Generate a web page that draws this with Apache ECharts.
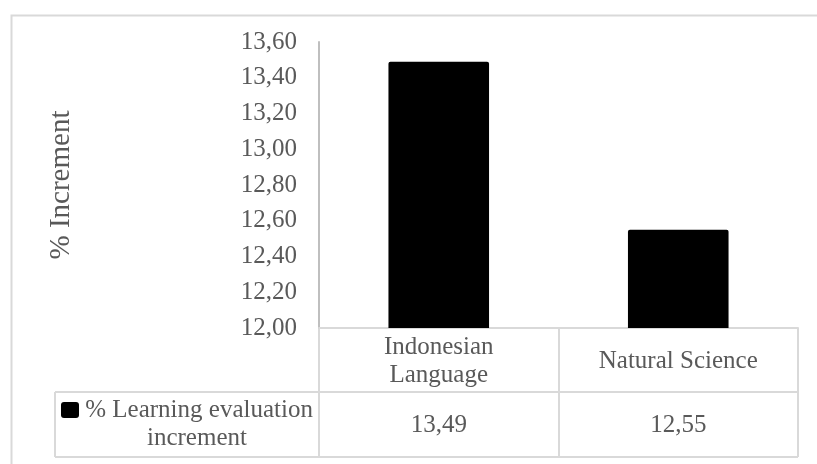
<!DOCTYPE html>
<html>
<head>
<meta charset="utf-8">
<script src="https://cdn.jsdelivr.net/npm/echarts@6/dist/echarts.min.js"></script>
<style>
    html, body { margin: 0; padding: 0; background: #fff; }
    #container { width: 817px; height: 464px; }
</style>
</head>
<body>
<div id="container"></div>
<script>
// chart data
let categories = ['Indonesian Language', 'Natural Science']
let values = [13.49, 12.55]
let seriesName = '% Learning evaluation increment'
let yTicks = { min: 12, max: 13.6, step: 0.2 }

const fmt = v => v.toFixed(2).replace('.', ',')
const textColor = '#595959'
const borderColor = '#d9d9d9'
const font = 'Liberation Serif'

let mychart = echarts.init(document.getElementById('container'))

let options = {
    animation: false,
    textStyle: { fontFamily: font },
    grid: {
        left: 319,
        right: 19,
        top: 42,
        bottom: 136
    },
    legend: {
        data: [seriesName],
        left: 51,
        top: 391,
        icon: 'none',
        itemWidth: 0,
        itemHeight: 16,
        // square marker is drawn inline so it sits on the first line
        formatter: name => '{sq|}{t| ' + name.replace(' increment', '}\n{l2|increment}'),
        textStyle: {
            color: textColor,
            fontSize: 25,
            fontFamily: font,
            lineHeight: 28,
            rich: {
                sq: { backgroundColor: '#000', width: 18, height: 16, borderRadius: 3 },
                t: { fontSize: 25, fontFamily: font, color: textColor, lineHeight: 28 },
                l2: { fontSize: 25, fontFamily: font, color: textColor, lineHeight: 28, padding: [0, 0, 0, 86] }
            }
        }
    },
    graphic: {
        elements: [
            // outer frame
            { type: 'rect', left: 9, top: 13, shape: { width: 900, height: 500 }, style: { fill: 'none', stroke: borderColor, lineWidth: 2 }, silent: true },
            // data table lines
            { type: 'line', shape: { x1: 55, y1: 392, x2: 798, y2: 392 }, style: { stroke: borderColor, lineWidth: 2 } },
            { type: 'line', shape: { x1: 55, y1: 457, x2: 798, y2: 457 }, style: { stroke: borderColor, lineWidth: 2 } },
            { type: 'line', shape: { x1: 55, y1: 392, x2: 55, y2: 457 }, style: { stroke: borderColor, lineWidth: 2 } },
            { type: 'line', shape: { x1: 319, y1: 328, x2: 319, y2: 457 }, style: { stroke: borderColor, lineWidth: 2 } },
            { type: 'line', shape: { x1: 559, y1: 328, x2: 559, y2: 457 }, style: { stroke: borderColor, lineWidth: 2 } },
            { type: 'line', shape: { x1: 798, y1: 328, x2: 798, y2: 457 }, style: { stroke: borderColor, lineWidth: 2 } }
        ]
    },
    xAxis: [
        {
            type: 'category',
            data: categories,
            position: 'bottom',
            axisLine: { show: true, lineStyle: { color: borderColor, width: 2 } },
            axisTick: { show: false },
            axisLabel: {
                color: textColor,
                fontSize: 25,
                fontFamily: font,
                lineHeight: 28,
                margin: 33,
                verticalAlign: 'middle',
                formatter: v => v.length > 15 ? v.replace(' ', '\n') : v
            }
        },
        {
            type: 'category',
            data: values.map(fmt),
            position: 'bottom',
            offset: 64,
            axisLine: { show: false },
            axisTick: { show: false },
            axisLabel: {
                color: textColor,
                fontSize: 25,
                fontFamily: font,
                margin: 33,
                verticalAlign: 'middle'
            }
        }
    ],
    yAxis: {
        type: 'value',
        min: yTicks.min,
        max: yTicks.max,
        interval: yTicks.step,
        name: '% Increment',
        nameLocation: 'middle',
        nameGap: 243,
        nameTextStyle: {
            color: textColor,
            fontSize: 29,
            fontFamily: font
        },
        axisLine: { show: true, lineStyle: { color: '#bfbfbf', width: 2 } },
        axisTick: { show: false },
        axisLabel: {
            color: textColor,
            fontSize: 25,
            fontFamily: font,
            margin: 22,
            formatter: fmt
        },
        splitLine: { show: false }
    },
    series: [
        {
            name: seriesName,
            type: 'bar',
            data: values,
            barWidth: '42%',
            itemStyle: { color: '#000', borderRadius: [2, 2, 0, 0] }
        }
    ]
}

mychart.setOption(options)
window.addEventListener('resize', () => { mychart.resize() })
</script>
</body>
</html>
